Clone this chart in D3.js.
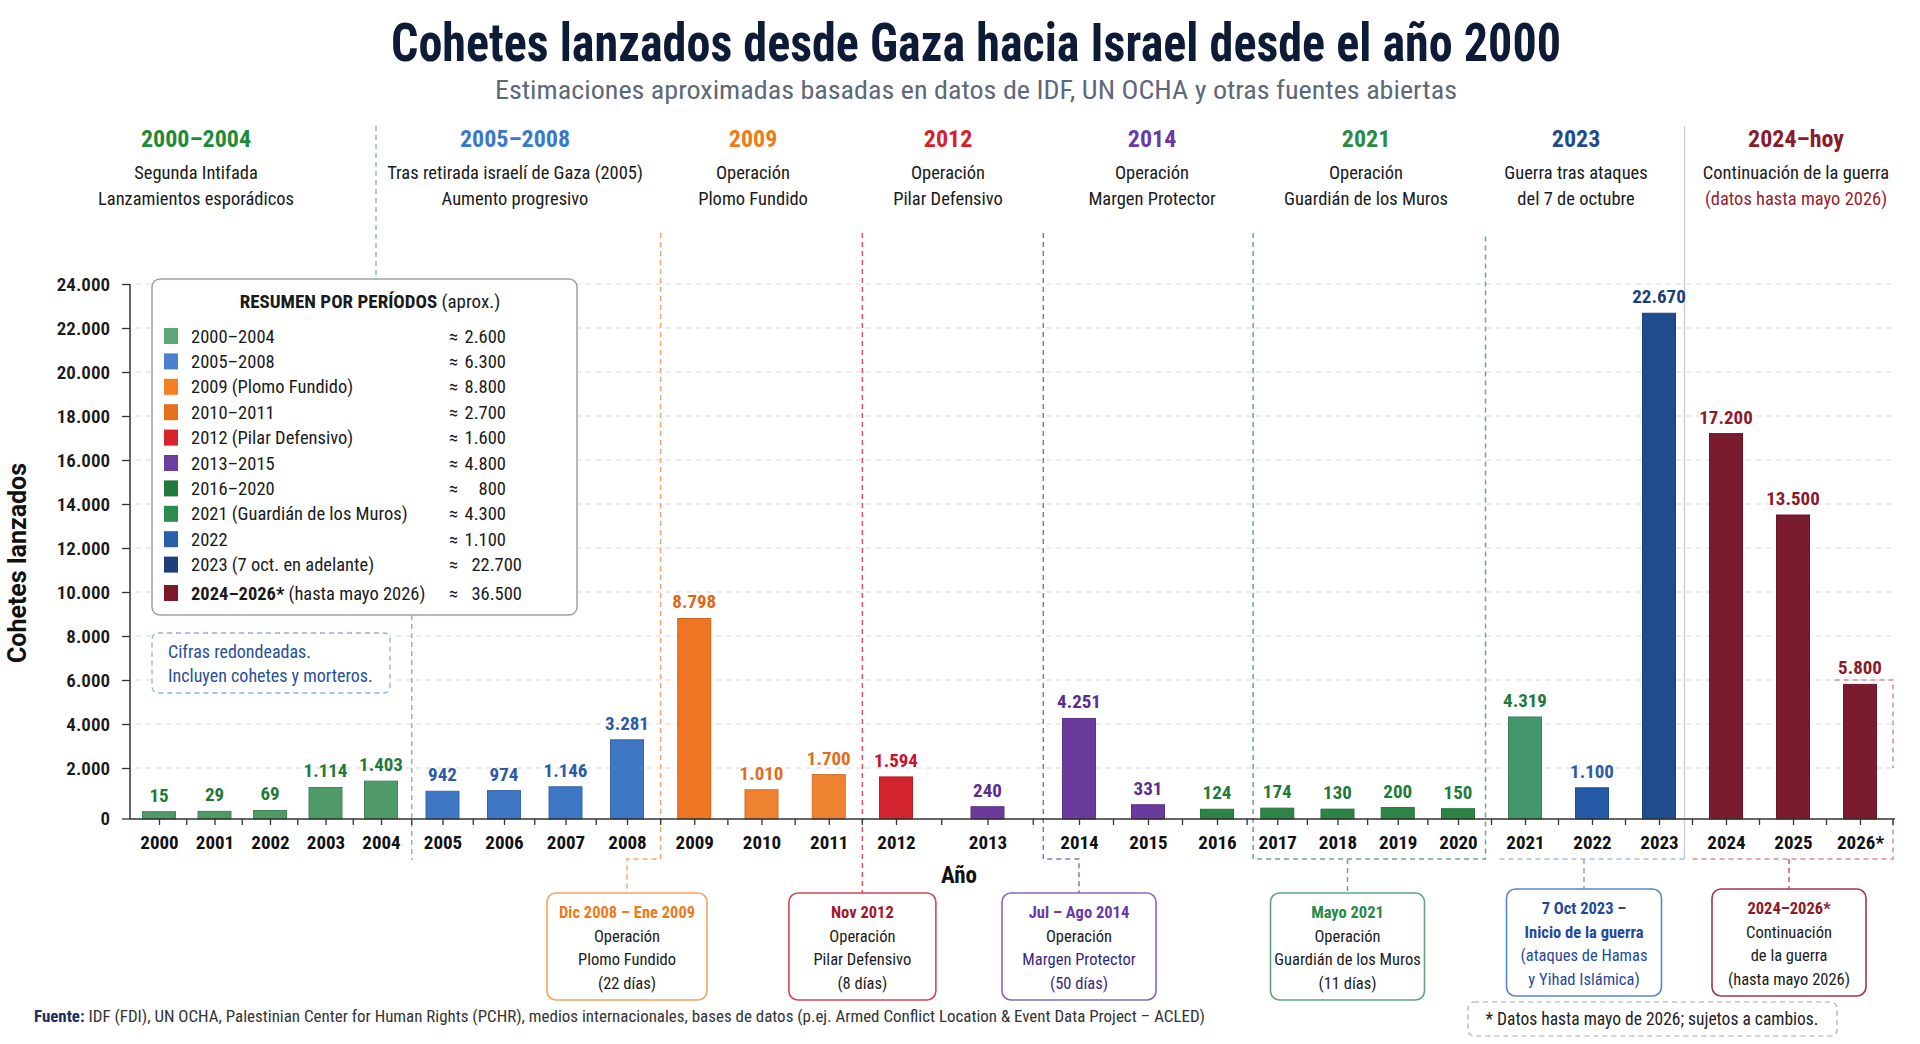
<!DOCTYPE html>
<html>
<head>
<meta charset="utf-8">
<script src="https://cdn.jsdelivr.net/npm/d3@7"></script>
<style>
  html, body { margin: 0; padding: 0; background: #fff; }
  svg { display: block; }
</style>
</head>
<body>
<svg id="chart" width="1920" height="1044"></svg>
<script>
// ---- data ----
const years = ["2000","2001","2002","2003","2004","2005","2006","2007","2008","2009","2010","2011","2012",
  "2013","2014","2015","2016","2017","2018","2019","2020","2021","2022","2023","2024","2025","2026*"];
const rockets = [15, 29, 69, 1114, 1403, 942, 974, 1146, 3281, 8798, 1010, 1700, 1594,
  240, 4251, 331, 124, 174, 130, 200, 150, 4319, 1100, 22670, 17200, 13500, 5800];
// which summary period each year belongs to
const periodOf = [0,0,0,0,0,1,1,1,1,2,3,3,4,5,5,5,6,6,6,6,6,7,8,9,10,10,10];

const summaryLabels = ["2000–2004", "2005–2008", "2009 (Plomo Fundido)", "2010–2011", "2012 (Pilar Defensivo)",
  "2013–2015", "2016–2020", "2021 (Guardián de los Muros)", "2022", "2023 (7 oct. en adelante)", "2024–2026*"];
const summaryValues = [2600, 6300, 8800, 2700, 1600, 4800, 800, 4300, 1100, 22700, 36500];

const headerTitles = ["2000–2004", "2005–2008", "2009", "2012", "2014", "2021", "2023", "2024–hoy"];
const headerLines = [
  ["Segunda Intifada", "Lanzamientos esporádicos"],
  ["Tras retirada israelí de Gaza (2005)", "Aumento progresivo"],
  ["Operación", "Plomo Fundido"],
  ["Operación", "Pilar Defensivo"],
  ["Operación", "Margen Protector"],
  ["Operación", "Guardián de los Muros"],
  ["Guerra tras ataques", "del 7 de octubre"],
  ["Continuación de la guerra", "(datos hasta mayo 2026)"]
];

const noteTitles = ["Dic 2008 – Ene 2009", "Nov 2012", "Jul – Ago 2014", "Mayo 2021", "7 Oct 2023 –", "2024–2026*"];
const noteLines = [
  ["Operación", "Plomo Fundido", "(22 días)"],
  ["Operación", "Pilar Defensivo", "(8 días)"],
  ["Operación", "Margen Protector", "(50 días)"],
  ["Operación", "Guardián de los Muros", "(11 días)"],
  ["Inicio de la guerra", "(ataques de Hamas", "y Yihad Islámica)"],
  ["Continuación", "de la guerra", "(hasta mayo 2026)"]
];

// ---- styles / layout ----
const barColors = ["#4f9a68", "#3f77c4", "#ee7521", "#ef8230", "#d2232e", "#6a3b9c",
  "#2c8447", "#44956a", "#2459a6", "#1f4c8c", "#7b1b2e"];
const swatchColors = ["#5fa77a", "#4a80cc", "#f47f22", "#e2701f", "#d8232c", "#6b3fa0",
  "#1f7a3c", "#2e8b4e", "#2a5ea8", "#1d3f7a", "#7a1a2a"];
const valueColors = ["#1f7a3a", "#2b5aa8", "#e0661a", "#e46c1c", "#c8102e", "#5b2d92",
  "#1f7a3a", "#1f7a3a", "#2b5aa8", "#1b3f7c", "#8b1a2a"];
const headerColors = ["#1f8a3a", "#3a78c9", "#f07a1a", "#d9202a", "#6a3aa8", "#2a8a45", "#1f4a8c", "#8b1a2a"];
const headerX = [196, 515, 753, 948, 1152, 1366, 1576, 1796];
// the year axis is not evenly spaced: piecewise-linear knots (year index -> px)
const xKnots = [0, 4, 8, 12, 14, 16, 20, 26];
const xKnotPx = [159, 381, 627, 896, 1079, 1217, 1458, 1860];

// font: condensed if installed, else Roboto squeezed horizontally
function hasFont(name) {
  const ctx = document.createElement('canvas').getContext('2d');
  const s = 'mmmmmmmmwwwwwlli1234567890';
  return ['monospace', 'serif'].some(base => {
    ctx.font = `40px ${base}`;
    const a = ctx.measureText(s).width;
    ctx.font = `40px "${name}", ${base}`;
    return ctx.measureText(s).width !== a;
  });
}
const COND = hasFont('Roboto Condensed');
const FONT = COND ? '"Roboto Condensed", Roboto, sans-serif' : 'Roboto, "Noto Sans", sans-serif';
const SX = COND ? 1 : 0.86;

const fmt = d3.formatLocale({decimal: ",", thousands: ".", grouping: [3], currency: ["", ""]}).format(",d");

const svg = d3.select('#chart');

function txt(parent, x, y, str, o = {}) {
  const t = parent.append('text')
    .attr('transform', `translate(${x},${y}) scale(${SX},1)`)
    .attr('text-anchor', o.anchor || 'middle')
    .attr('fill', o.color || '#1a1a1a')
    .style('font-family', FONT)
    .style('font-size', (o.size || 18) + 'px')
    .style('font-weight', o.weight || 400);
  if (str != null) t.text(str);
  return t;
}

// ---- scales ----
const x = d3.scaleLinear().domain(xKnots).range(xKnotPx);
const barW = 33;
const y = d3.scaleLinear().domain([0, 24000]).range([812, 284]);
const axisY = y(0) + 7;
const plotL = 130, plotR = 1895;
const cx = i => x(i);
const bound = i => i >= years.length ? plotR - 2 : (x(i - 1) + x(i)) / 2;
const bracketY = 859, dividerTop = 233;

// ---- titles ----
svg.append('text')
  .attr('x', 976).attr('y', 61).attr('text-anchor', 'middle')
  .attr('textLength', 1170).attr('lengthAdjust', 'spacingAndGlyphs')
  .attr('fill', '#0e1b36')
  .style('font-family', FONT).style('font-size', '53px').style('font-weight', 700)
  .text('Cohetes lanzados desde Gaza hacia Israel desde el año 2000');
svg.append('text')
  .attr('x', 976).attr('y', 99).attr('text-anchor', 'middle')
  .attr('textLength', 962).attr('lengthAdjust', 'spacingAndGlyphs')
  .attr('fill', '#5d6878')
  .style('font-family', FONT).style('font-size', '26px')
  .text('Estimaciones aproximadas basadas en datos de IDF, UN OCHA y otras fuentes abiertas');

headerTitles.forEach((h, i) => {
  txt(svg, headerX[i], 147, h, {size: 24, weight: 700, color: headerColors[i]});
  headerLines[i].forEach((l, j) => {
    const c = (i === 7 && j === 1) ? '#9b1b2e' : '#1a1a1a';
    txt(svg, headerX[i], 179 + j * 26, l, {size: 18.5, color: c});
  });
});

// ---- gridlines ----
const gridTicks = d3.range(2000, 24001, 2000);
svg.append('g').selectAll('line').data(gridTicks).join('line')
  .attr('x1', plotL + 6).attr('x2', plotR)
  .attr('y1', d => y(d)).attr('y2', d => y(d))
  .attr('stroke', '#d6d9de').attr('stroke-width', 1.2).attr('stroke-dasharray', '5,5');

// ---- period dividers & brackets ----
const noteX = [cx(8), bound(12), cx(14), cx(18) + 10, cx(22) - 8, cx(25) - 4];
const guides = svg.append('g').attr('fill', 'none').attr('stroke-width', 1.5);
function guide(d, color, dash = '5,4') {
  guides.append('path').attr('d', d).attr('stroke', color).attr('stroke-dasharray', dash);
}
// 2004|2005 (header divider + plot divider)
guide(`M376,126V279`, '#8fb0e0');
guide(`M${bound(5)},615V860`, '#8fb0e0');
// 2008|2009 -> Plomo Fundido box
guide(`M${bound(9)},${dividerTop}V${bracketY}H${noteX[0]}V893`, '#f6a66b');
// 2011|2012 -> Pilar Defensivo box
guide(`M${bound(12)},${dividerTop}V893`, '#e3525d');
// 2013|2014 -> Margen Protector box
guide(`M${bound(14) + 10},${dividerTop}V${bracketY}H${noteX[2]}V893`, '#8f70c8');
// 2017–2020 frame -> Guardián de los Muros box
guide(`M${bound(17) + 6},${dividerTop}V${bracketY}H${bound(21) - 6}V${dividerTop}`, '#6aa886');
guide(`M${noteX[3]},${bracketY}V893`, '#6aa886');
// 2021–2023 -> 7 Oct box
guide(`M${bound(21) + 8},${bracketY}H${bound(24) - 8}`, '#a8bde6');
guide(`M${noteX[4]},${bracketY}V889`, '#8aa6dc');
// 2023|2024 solid divider
guide(`M${bound(24) - 8},126V${bracketY}`, '#cfcbe6', null);
// 2024–2026 -> continuation box, plus frame around 2026*
guide(`M${bound(24)},${bracketY}H${plotR - 2}V${axisY}`, '#e08a98');
guide(`M${bound(26) + 8},${y(6000)}H${plotR - 2}V${y(2000)}`, '#e08a98');
guide(`M${noteX[5]},${bracketY}V889`, '#c9586c');

// ---- legend box ----
const lg = svg.append('g');
lg.append('rect').attr('x', 152).attr('y', 279).attr('width', 425).attr('height', 336).attr('rx', 8)
  .attr('fill', '#fff').attr('stroke', '#9aa3ad').attr('stroke-width', 1.5);
const lt = txt(lg, 370, 308, null, {size: 19});
lt.append('tspan').style('font-weight', 700).text('RESUMEN POR PERÍODOS');
lt.append('tspan').text(' (aprox.)');
summaryLabels.forEach((lab, i) => {
  const cyRow = 336 + i * 25.4 + (i === 10 ? 3 : 0);
  lg.append('rect').attr('x', 164).attr('y', cyRow - 8).attr('width', 14).attr('height', 16)
    .attr('fill', swatchColors[i]);
  const t = txt(lg, 191, cyRow + 6.5, null, {size: 18.5, anchor: 'start'});
  if (i === 10) {
    t.append('tspan').style('font-weight', 700).text(lab);
    t.append('tspan').text(' (hasta mayo 2026)');
  } else {
    t.text(lab);
  }
  txt(lg, 449, cyRow + 6.5, '≈', {size: 18.5, anchor: 'start'});
  txt(lg, summaryValues[i] >= 10000 ? 522 : 506, cyRow + 6.5, fmt(summaryValues[i]), {size: 18.5, anchor: 'end'});
});

// note box
svg.append('rect').attr('x', 152).attr('y', 633).attr('width', 238).attr('height', 60).attr('rx', 6)
  .attr('fill', '#fff').attr('stroke', '#8fb0e0').attr('stroke-width', 1.3).attr('stroke-dasharray', '5,4');
txt(svg, 168, 658, 'Cifras redondeadas.', {size: 18, anchor: 'start', color: '#2a4f9a'});
txt(svg, 168, 682, 'Incluyen cohetes y morteros.', {size: 18, anchor: 'start', color: '#2a4f9a'});

// ---- bars ----
svg.append('g').selectAll('rect').data(rockets).join('rect')
  .attr('x', (d, i) => x(i) - barW / 2)
  .attr('width', barW)
  .attr('y', d => y(d))
  .attr('height', d => axisY - y(d))
  .attr('fill', (d, i) => barColors[periodOf[i]])
  .attr('stroke', (d, i) => d3.color(barColors[periodOf[i]]).darker(0.4))
  .attr('stroke-width', 1);

const vl = svg.append('g');
rockets.forEach((v, i) => {
  txt(vl, cx(i), y(v) - 10, fmt(v), {size: 19, weight: 700, color: valueColors[periodOf[i]]});
});

// ---- axes ----
const yAxis = svg.append('g').attr('transform', `translate(${plotL},0)`)
  .call(d3.axisLeft(y).tickValues([0, ...gridTicks]).tickSize(8).tickPadding(12).tickFormat(fmt));
yAxis.select('.domain').remove();
yAxis.selectAll('.tick').filter(d => d === 0).attr('transform', `translate(0,${axisY})`);
yAxis.selectAll('.tick line').attr('stroke', '#333').attr('stroke-width', 1.3);
yAxis.selectAll('.tick text')
  .attr('x', -20 / SX).attr('transform', `scale(${SX},1)`)
  .attr('fill', '#1a1a1a')
  .style('font-family', FONT).style('font-size', '19px').style('font-weight', 600);
svg.append('line').attr('x1', plotL).attr('x2', plotL).attr('y1', y(24000)).attr('y2', axisY)
  .attr('stroke', '#333').attr('stroke-width', 1.5);

const xAxis = svg.append('g').attr('transform', `translate(0,${axisY})`)
  .call(d3.axisBottom(x).tickValues(d3.range(years.length)).tickFormat(i => years[i])
    .tickSize(6).tickPadding(11));
xAxis.select('.domain').remove();
xAxis.selectAll('.tick line').attr('stroke', '#333').attr('stroke-width', 1.3);
xAxis.selectAll('.tick text')
  .attr('transform', `scale(${SX},1)`)
  .attr('fill', '#111')
  .style('font-family', FONT).style('font-size', '19px').style('font-weight', 700);
xAxis.selectAll('line.between').data(d3.range(1, years.length + 1)).join('line')
  .attr('class', 'between')
  .attr('x1', i => bound(i)).attr('x2', i => bound(i))
  .attr('y1', 0).attr('y2', 6)
  .attr('stroke', '#333').attr('stroke-width', 1.3);
svg.append('line').attr('x1', plotL).attr('x2', plotR).attr('y1', axisY).attr('y2', axisY)
  .attr('stroke', '#333').attr('stroke-width', 1.6);

txt(svg, 959, 883, 'Año', {size: 23, weight: 700, color: '#111'});
svg.append('text')
  .attr('transform', `translate(26,563) rotate(-90)`)
  .attr('text-anchor', 'middle').attr('fill', '#111')
  .style('font-family', 'Roboto, sans-serif').style('font-size', '25px').style('font-weight', 700)
  .text('Cohetes lanzados');

// ---- annotation boxes ----
const noteW = [160, 147, 154, 154, 155, 154];
const noteTop = [893, 893, 893, 893, 889, 889];
const noteH = 107;
const noteBorder = ["#f5a35f", "#d94452", "#8a63c6", "#5fa67a", "#5a84cc", "#a8344a"];
const noteTitleColor = ["#f07a1a", "#a3182e", "#6a3aa8", "#2a8a45", "#1f4a9c", "#8b1a2a"];
const noteLineColor = [
  ["#1a1a1a", "#1a1a1a", "#1a1a1a"],
  ["#1a1a1a", "#1a1a1a", "#1a1a1a"],
  ["#1a1a1a", "#35297f", "#35297f"],
  ["#1a1a1a", "#1a1a1a", "#1a1a1a"],
  ["#1f4a9c", "#1f4a9c", "#1f4a9c"],
  ["#1a1a1a", "#1a1a1a", "#1a1a1a"]
];
const nb = svg.append('g');
noteTitles.forEach((t, i) => {
  nb.append('rect').attr('x', noteX[i] - noteW[i] / 2).attr('y', noteTop[i])
    .attr('width', noteW[i]).attr('height', noteH)
    .attr('rx', 9).attr('fill', '#fff').attr('stroke', noteBorder[i]).attr('stroke-width', 1.6);
  txt(nb, noteX[i], noteTop[i] + 25, t, {size: 16.5, weight: 700, color: noteTitleColor[i]});
  noteLines[i].forEach((l, j) => {
    txt(nb, noteX[i], noteTop[i] + 48.5 + j * 23.5, l,
      {size: 16.5, weight: (i === 4 && j === 0) ? 700 : 400, color: noteLineColor[i][j]});
  });
});

// ---- source & footnote ----
const src = svg.append('text')
  .attr('x', 34).attr('y', 1022)
  .attr('textLength', 1171).attr('lengthAdjust', 'spacingAndGlyphs')
  .style('font-family', FONT).style('font-size', '16.5px').attr('fill', '#333');
src.append('tspan').style('font-weight', 700).attr('fill', '#1d2f5e').text('Fuente:');
src.append('tspan').text(' IDF (FDI), UN OCHA, Palestinian Center for Human Rights (PCHR), medios internacionales, bases de datos (p.ej. Armed Conflict Location & Event Data Project – ACLED)');

svg.append('rect').attr('x', 1468).attr('y', 1002).attr('width', 369).attr('height', 34).attr('rx', 6)
  .attr('fill', '#fff').attr('stroke', '#a3a8b0').attr('stroke-width', 1.2).attr('stroke-dasharray', '5,4');
txt(svg, 1652, 1025, '* Datos hasta mayo de 2026; sujetos a cambios.', {size: 17.5, color: '#222'});
</script>
</body>
</html>
